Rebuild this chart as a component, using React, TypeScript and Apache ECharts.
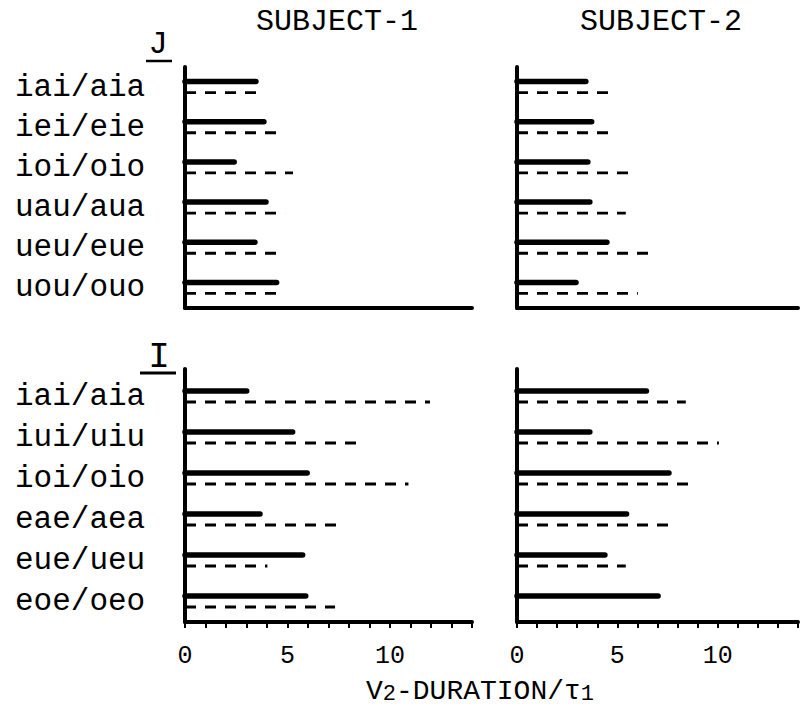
import React, { useEffect, useRef } from "react";
import * as echarts from "echarts";

const FONT = "'Liberation Mono', 'DejaVu Sans Mono', monospace";
const WEIGHT = "normal";

// Categories (top panel "J", bottom panel "I")
const jCategories = ["iai/aia", "iei/eie", "ioi/oio", "uau/aua", "ueu/eue", "uou/ouo"];
const iCategories = ["iai/aia", "iui/uiu", "ioi/oio", "eae/aea", "eue/ueu", "eoe/oeo"];

// V2-duration / tau1 values: solid and dashed bars
const jS1Solid = [3.46, 3.85, 2.4, 3.95, 3.41, 4.47];
const jS1Dashed = [3.66, 4.67, 5.27, 4.88, 4.49, 4.71];
const jS2Solid = [3.43, 3.72, 3.53, 3.63, 4.48, 2.94];
const jS2Dashed = [4.58, 4.68, 5.62, 5.42, 6.62, 6.02];
const iS1Solid = [3.01, 5.25, 5.96, 3.66, 5.74, 5.89];
const iS1Dashed = [11.95, 8.74, 10.9, 7.56, 4.02, 7.32];
const iS2Solid = [6.45, 3.63, 7.57, 5.46, 4.38, 7.03];
const iS2Dashed: (number | null)[] = [8.41, 10.06, 8.72, 7.58, 5.42, null];

const xTickLabels = ["0", "5", "10"];
const subjects = ["SUBJECT-1", "SUBJECT-2"];

function toData(vals: (number | null)[]) {
  const out: number[][] = [];
  vals.forEach((v, i) => {
    if (v != null) out.push([v, i]);
  });
  return out;
}

function segSeries(idx: number, vals: (number | null)[], dashed: boolean) {
  const off = dashed ? 5.5 : -5.5;
  return {
    type: "custom",
    xAxisIndex: idx,
    yAxisIndex: idx,
    clip: false,
    encode: { x: 0, y: 1 },
    data: toData(vals),
    renderItem: (params: any, api: any) => {
      const v = api.value(0);
      const r = api.value(1);
      const p0 = api.coord([0, r]);
      const p1 = api.coord([v, r]);
      return {
        type: "line",
        shape: { x1: p0[0], y1: p0[1] + off, x2: p1[0], y2: p1[1] + off },
        style: dashed
          ? { stroke: "#000", lineWidth: 2.8, lineDash: [11, 9], lineCap: "butt" }
          : { stroke: "#000", lineWidth: 5.5, lineCap: "round" },
      };
    },
  };
}

export default function App() {
  const ref = useRef<HTMLDivElement>(null);
  useEffect(() => {
    if (!ref.current) return;
    const chart = echarts.init(ref.current, null, { renderer: "svg" });
    const grids = [
      { left: 185, top: 67, width: 287, height: 241 },
      { left: 517, top: 67, width: 281, height: 241 },
      { left: 185, top: 376, width: 287, height: 246 },
      { left: 517, top: 376, width: 281, height: 246 },
    ];
    const axisLine = { show: true, lineStyle: { color: "#000", width: 4 } };
    const xAxes = grids.map((_, i) => {
      const bottom = i >= 2;
      return {
        type: "value",
        gridIndex: i,
        min: 0,
        max: 14,
        interval: 1,
        axisLine,
        splitLine: { show: false },
        axisTick: bottom
          ? { show: true, length: 6, lineStyle: { color: "#000", width: 2 } }
          : { show: false },
        axisLabel: bottom
          ? {
              show: true,
              margin: 22,
              fontSize: 25,
              fontWeight: WEIGHT,
              fontFamily: FONT,
              color: "#000",
              formatter: (v: number) => (xTickLabels.includes(String(v)) ? String(v) : ""),
            }
          : { show: false },
      };
    });
    const yAxes = grids.map((_, i) => ({
      type: "category",
      gridIndex: i,
      inverse: true,
      data: i < 2 ? jCategories : iCategories,
      axisLine,
      axisTick: { show: false },
      splitLine: { show: false },
      axisLabel:
        i % 2 === 0
          ? {
              show: true,
              interval: 0,
              hideOverlap: false,
              align: "left",
              margin: 170,
              fontSize: 31,
              fontWeight: WEIGHT,
              fontFamily: FONT,
              color: "#000",
            }
          : { show: false },
    }));
    const series = [
      segSeries(0, jS1Solid, false),
      segSeries(0, jS1Dashed, true),
      segSeries(1, jS2Solid, false),
      segSeries(1, jS2Dashed, true),
      segSeries(2, iS1Solid, false),
      segSeries(2, iS1Dashed, true),
      segSeries(3, iS2Solid, false),
      segSeries(3, iS2Dashed, true),
    ];
    const txt = (text: string, x: number, y: number, size: number) => ({
      type: "text",
      x,
      y,
      style: {
        text,
        fontSize: size,
        fontWeight: WEIGHT,
        fontFamily: FONT,
        fill: "#000",
        align: "center",
        verticalAlign: "middle",
        textAlign: "center",
        textVerticalAlign: "middle",
      },
    });
    const axisExt = (x: number) => ({
      type: "line",
      shape: { x1: x, y1: 369, x2: x, y2: 378 },
      style: { stroke: "#000", lineWidth: 4, lineCap: "round" },
    });
    chart.setOption({
      animation: false,
      backgroundColor: "#fff",
      grid: grids,
      xAxis: xAxes,
      yAxis: yAxes,
      series,
      graphic: [
        txt(subjects[0], 337, 22, 30),
        txt(subjects[1], 661, 22, 30),
        txt("J", 158, 44, 32),
        { type: "line", shape: { x1: 146, y1: 61, x2: 172, y2: 61 }, style: { stroke: "#000", lineWidth: 2.5 } },
        txt("I", 159, 357, 36),
        { type: "line", shape: { x1: 140, y1: 373, x2: 176, y2: 373 }, style: { stroke: "#000", lineWidth: 3 } },
        axisExt(185),
        axisExt(517),
        {
          type: "text",
          x: 480,
          y: 688,
          style: {
            text: "{n|V}{s|2}{n|-DURATION/τ}{s|1}",
            align: "center",
            verticalAlign: "middle",
            textAlign: "center",
            textVerticalAlign: "middle",
            rich: {
              n: { fontSize: 28, fontWeight: WEIGHT, fontFamily: FONT, fill: "#000", lineHeight: 34, verticalAlign: "bottom" },
              s: { fontSize: 22, fontWeight: WEIGHT, fontFamily: FONT, fill: "#000", lineHeight: 16, verticalAlign: "bottom" },
            },
          },
        },
      ],
    });
    return () => chart.dispose();
  }, []);
  return (
    <div
      ref={ref}
      style={{ position: "absolute", left: 0, top: 0, width: 803, height: 716, background: "#fff" }}
    />
  );
}
